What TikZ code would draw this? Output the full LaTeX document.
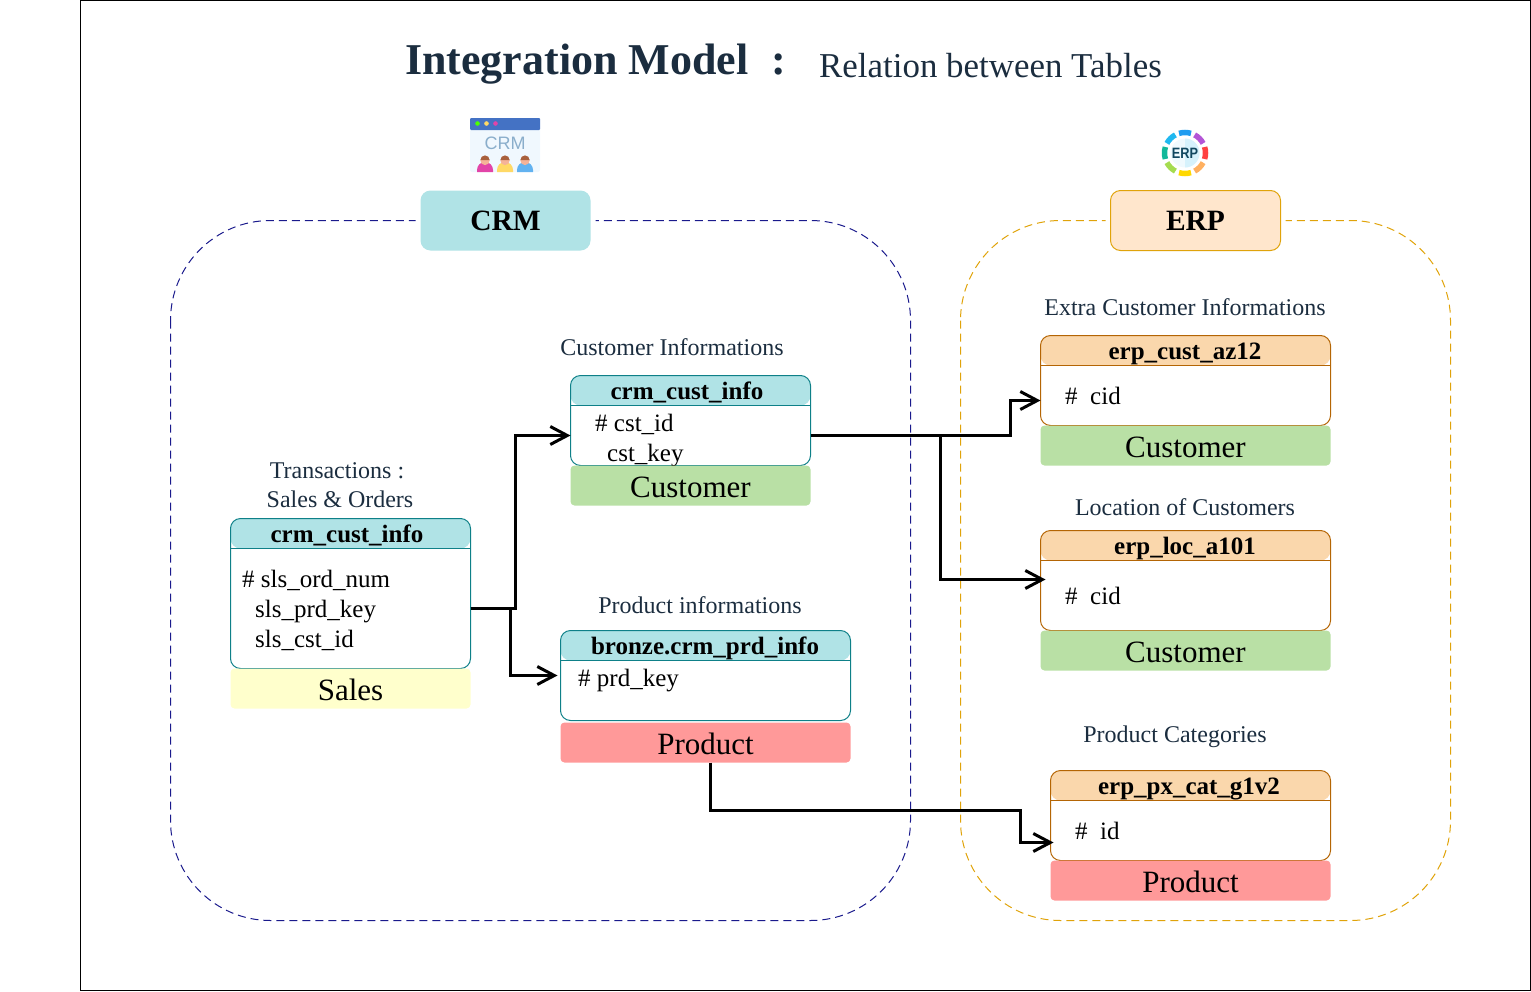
\documentclass[tikz,border=0pt]{standalone}
\usepackage{fontspec}
\setmainfont{Liberation Serif}
\usepackage{tikz}
\usetikzlibrary{positioning,calc,arrows.meta}

\definecolor{crmhead}{HTML}{B0E3E6}
\definecolor{crmline}{HTML}{0E8088}
\definecolor{erphead}{HTML}{FAD7AC}
\definecolor{erpline}{HTML}{B46504}
\definecolor{erpfill}{HTML}{FFE6CC}
\definecolor{erpdash}{HTML}{E0A30A}
\definecolor{crmdash}{HTML}{1A1A8C}
\definecolor{greentag}{HTML}{B9E0A5}
\definecolor{yellowtag}{HTML}{FFFFCC}
\definecolor{redtag}{HTML}{FF9999}
\definecolor{inktext}{HTML}{1B2D3F}
\definecolor{iconbar}{HTML}{4472C4}
\definecolor{iconpage}{HTML}{F0F8FE}
\definecolor{iconword}{HTML}{8AAECB}
\definecolor{iconskin}{HTML}{F5B398}
\definecolor{iconhair}{HTML}{A8603C}
\definecolor{iconpink}{HTML}{E244A8}
\definecolor{iconyellow}{HTML}{FFD966}
\definecolor{iconblue}{HTML}{62B2F0}
\definecolor{iconink}{HTML}{124860}

\newcommand{\fsz}[1]{\fontsize{#1}{#1}\selectfont}

\begin{document}
\begin{tikzpicture}[x=1pt,y=-1pt,>={Straight Barb[length=17pt,width=18pt]},
                    link/.style={->,black,line width=3pt,line join=miter},
                    table crm/.style={rectangle,draw=crmline,line width=1pt,rounded corners=10pt,fill=white,inner sep=0pt,outer sep=0pt,
                      path picture={\fill[crmhead] (path picture bounding box.north west) rectangle ([yshift=-30pt]path picture bounding box.north east);
                                    \draw[crmline,line width=1pt] ([yshift=-30pt]path picture bounding box.north west) -- ([yshift=-30pt]path picture bounding box.north east);}},
                    table erp/.style={rectangle,draw=erpline,line width=1pt,rounded corners=10pt,fill=white,inner sep=0pt,outer sep=0pt,
                      path picture={\fill[erphead] (path picture bounding box.north west) rectangle ([yshift=-30pt]path picture bounding box.north east);
                                    \draw[erpline,line width=1pt] ([yshift=-30pt]path picture bounding box.north west) -- ([yshift=-30pt]path picture bounding box.north east);}},
                    tag/.style={rectangle,rounded corners=4pt,inner sep=0pt,outer sep=0pt,minimum height=40pt,font=\fsz{31},text=black,text height=24pt,text depth=0pt},
                    group box/.style={rectangle,rounded corners=10pt,inner sep=0pt,outer sep=0pt,minimum width=170pt,minimum height=60pt,line width=1pt,
                      font=\fsz{29.5}\bfseries,text=black,preaction={draw=white,line width=10pt}},
                    table title/.style={inner sep=0pt,font=\fsz{25}\bfseries,text=black,text height=20pt,text depth=3pt},
                    field/.style={inner sep=0pt,anchor=west,font=\fsz{25},text=black,text height=20pt,text depth=3pt},
                    caption/.style={inner sep=0pt,font=\fsz{24},text=inktext,text height=20pt,text depth=3pt},
                    zone/.style={line width=1pt,rounded corners=100pt,dash pattern=on 8pt off 5pt}
                   ]
  \useasboundingbox (0,0) rectangle (1531,991);

  % outer frame
  \draw[black,line width=1pt] (80.5,0.5) rectangle (1530.5,990.5);

  % heading
  \node[inner sep=0pt,anchor=base west,font=\fsz{44}\bfseries,text=inktext] (maintitle) at (405,74) {Integration Model};
  \node[inner sep=0pt,anchor=base west,font=\fsz{44}\bfseries,text=inktext] (colon) at (771,74) {:};
  \node[inner sep=0pt,anchor=base west,font=\fsz{34.9},text=inktext] (subtitle) at (819,77) {Relation between Tables};

  % the two dashed zones
  \draw[zone,crmdash] (170.5,220.5) rectangle (910.5,920.5);
  \draw[zone,erpdash] (960.5,220.5) rectangle (1450.5,920.5);
  \node[group box,fill=crmhead] (crm) at (505.5,220.5) {CRM};
  \node[group box,fill=erpfill,draw=erpdash] (erp) at (1195.5,220.5) {ERP};

  % crm icon
  \fill[iconpage,rounded corners=2pt] (470,118) rectangle (540,172);
  \fill[iconbar,rounded corners=1pt] (470,118) rectangle (540,130);
  \fill[green!70!yellow] (477.5,123.5) circle (2.3pt);
  \fill[iconyellow] (486.5,123.5) circle (2.3pt);
  \fill[iconpink] (495.5,123.5) circle (2.3pt);
  \node[inner sep=0pt,font=\fontspec{Liberation Sans}\fsz{18},text=iconword] (crmicon) at (505,143) {CRM};
  \foreach \px/\pc in {485/iconpink,505/iconyellow,525/iconblue} {
    \fill[\pc] (\px-8,172) -- (\px-8,170) arc[start angle=180,end angle=0,radius=8pt] -- (\px+8,172) -- cycle;
    \fill[iconskin] (\px,160.5) circle (4.6pt);
    \fill[iconhair] (\px-4.6,160) arc[start angle=180,end angle=0,radius=4.6pt] -- cycle;
  }

  % erp icon
  \foreach \ang/\rc/\gc/\bc in {90/30/156/240,45/180/85/214,0/255/64/64,-45/255/176/96,-90/255/216/0,-135/165/220/80,180/18/184/154,135/32/184/240} {
    \draw[line width=5.5pt,color={rgb,255:red,\rc;green,\gc;blue,\bc}] (1185,153) ++(\ang-17:20.5pt) arc[start angle=\ang-17,end angle=\ang+17,radius=20.5pt];
  }
  \fill[cyan!6!white] (1185,153) circle (14.5pt);
  \fill[cyan!16!white] (1185,138.5) arc[start angle=90,end angle=-90,radius=14.5pt] -- cycle;
  \node[inner sep=0pt,xscale=.85,font=\fontspec{Liberation Sans}\fsz{15}\bfseries,text=iconink] (erpicon) at (1185,153) {ERP};

  % crm tables
  \node[table crm,minimum width=240pt,minimum height=90pt] (custinfo) at (690.5,420.5) {};
  \node[table title] at (687,391) {crm\_cust\_info};
  \node[field] at (595,423) {\# cst\_id};
  \node[field] at (607,453) {cst\_key};
  \node[tag,fill=greentag,minimum width=240pt] (custtag) [below=0pt of custinfo] {Customer};

  \node[table crm,minimum width=240pt,minimum height=150pt] (salesinfo) at (350.5,593.5) {};
  \node[table title] at (347,534) {crm\_cust\_info};
  \node[field] at (242,579) {\# sls\_ord\_num};
  \node[field] at (255,609) {sls\_prd\_key};
  \node[field] at (255,639) {sls\_cst\_id};
  \node[tag,fill=yellowtag,minimum width=240pt] (salestag) [below=0pt of salesinfo] {Sales};

  \node[table crm,minimum width=290pt,minimum height=90pt] (prdinfo) at (705.5,675.5) {};
  \node[table title] at (705,646) {bronze.crm\_prd\_info};
  \node[field] at (578,678) {\# prd\_key};
  \node[tag,fill=redtag,minimum width=290pt] (prdtag) [below=2pt of prdinfo] {Product};

  % erp tables
  \node[table erp,minimum width=290pt,minimum height=90pt] (az12info) at (1185.5,380.5) {};
  \node[table title] at (1185,351) {erp\_cust\_az12};
  \node[field] at (1065,396) {\#\ \ cid};
  \node[tag,fill=greentag,minimum width=290pt] (az12tag) [below=0pt of az12info] {Customer};

  \node[table erp,minimum width=290pt,minimum height=100pt] (locinfo) at (1185.5,580.5) {};
  \node[table title] at (1185,546) {erp\_loc\_a101};
  \node[field] at (1065,596) {\#\ \ cid};
  \node[tag,fill=greentag,minimum width=290pt] (loctag) [below=0pt of locinfo] {Customer};

  \node[table erp,minimum width=280pt,minimum height=90pt] (pxinfo) at (1190.5,815.5) {};
  \node[table title] at (1189,786) {erp\_px\_cat\_g1v2};
  \node[field] at (1075,831) {\#\ \ id};
  \node[tag,fill=redtag,minimum width=280pt] (pxtag) [below=0pt of pxinfo] {Product};

  % captions
  \node[caption] (custcap) at (672,347) {Customer Informations};
  \node[caption] (salescapa) at (337,470) {Transactions :};
  \node[caption] (salescapb) at (340,499) {Sales \& Orders};
  \node[caption] (prdcap) at (700,605) {Product informations};
  \node[caption] (az12cap) at (1185,307) {Extra Customer Informations};
  \node[caption] (loccap) at (1185,507) {Location of Customers};
  \node[caption] (pxcap) at (1175,734) {Product Categories};

  % connectors
  \draw[link] ([yshift=-15pt]salesinfo.east) -- ++(45,0) |- ([yshift=-15pt]custinfo.west);
  \draw[link] ([yshift=-15pt]salesinfo.east) -- ++(40,0) |- ([xshift=-3pt]prdinfo.west);
  \draw[link] ([yshift=-15pt]custinfo.east) -- ++(200,0) |- ([yshift=-20pt]az12info.west);
  \draw[link] ([yshift=-15pt,xshift=130pt]custinfo.east) |- ([xshift=5pt,yshift=1pt]locinfo.west);
  \draw[link] ([xshift=5pt]prdtag.south) -- ++(0,48) -- ++(310,0) |- ([xshift=3pt,yshift=-27pt]pxinfo.west);
\end{tikzpicture}
\end{document}
